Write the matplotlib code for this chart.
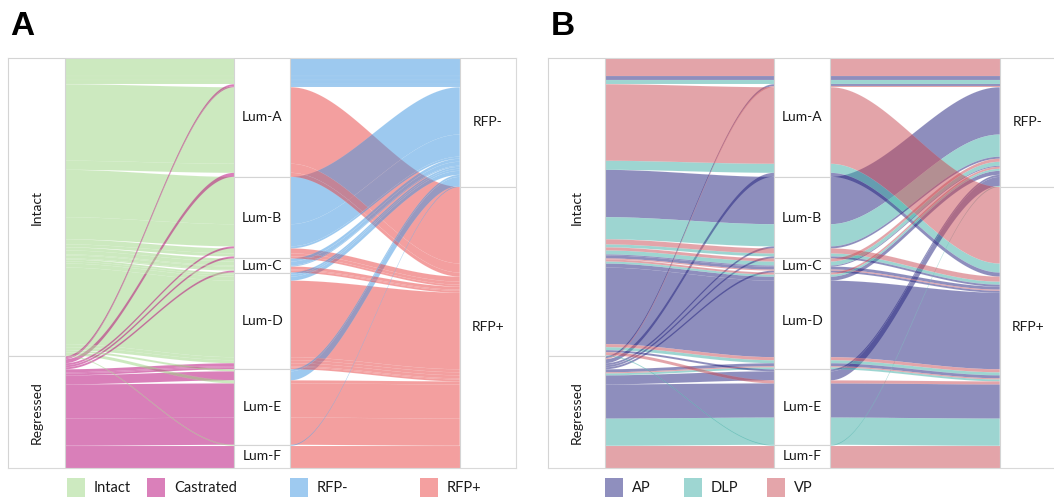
import numpy as np
import matplotlib
matplotlib.use("Agg")
import matplotlib.pyplot as plt
from matplotlib.patches import Polygon, Rectangle

plt.rcParams['font.family'] = ['Lato', 'DejaVu Sans']

# ---- categories -----------------------------------------------------------
conditions = ["Intact", "Regressed"]
clusters = ["Lum-A", "Lum-B", "Lum-C", "Lum-D", "Lum-E", "Lum-F"]
rfp_states = ["RFP-", "RFP+"]
lobes = ["AP", "DLP", "VP"]

# ---- alluvia: one entry per (condition, cluster, RFP, lobe) group ----------
flow_condition = ["Intact", "Intact", "Intact", "Regressed", "Regressed",
                  "Intact", "Intact", "Regressed",
                  "Intact", "Intact", "Regressed", "Intact", "Intact", "Regressed",
                  "Intact", "Intact", "Intact", "Intact", "Intact", "Regressed",
                  "Intact", "Intact", "Intact", "Intact", "Intact", "Intact",
                  "Regressed", "Regressed", "Regressed",
                  "Intact", "Regressed", "Intact", "Regressed", "Regressed",
                  "Intact", "Regressed"]
flow_cluster = ["Lum-A"] * 8 + ["Lum-B"] * 6 + ["Lum-C"] * 6 + ["Lum-D"] * 9 \
    + ["Lum-E"] * 5 + ["Lum-F"] * 2
flow_rfp = ["RFP-", "RFP-", "RFP-", "RFP-", "RFP-", "RFP+", "RFP+", "RFP+",
            "RFP-", "RFP-", "RFP-", "RFP+", "RFP+", "RFP+",
            "RFP-", "RFP-", "RFP-", "RFP+", "RFP+", "RFP+",
            "RFP-", "RFP-", "RFP-", "RFP+", "RFP+", "RFP+", "RFP+", "RFP+", "RFP+",
            "RFP-", "RFP-", "RFP+", "RFP+", "RFP+",
            "RFP-", "RFP+"]
flow_lobe = ["VP", "AP", "DLP", "AP", "VP", "VP", "DLP", "AP",
             "AP", "DLP", "AP", "VP", "DLP", "AP",
             "VP", "DLP", "AP", "AP", "VP", "AP",
             "VP", "DLP", "AP", "AP", "VP", "DLP", "AP", "VP", "DLP",
             "AP", "AP", "VP", "AP", "DLP",
             "DLP", "VP"]
flow_cells = [18, 4, 4, 2, 1, 76, 9, 4,
              47, 22, 2, 5, 3, 2,
              3, 4, 1, 3, 1, 2,
              2, 2, 4, 76, 3, 3, 3, 1, 2,
              2, 9, 3, 34, 27,
              1, 22]

# ---- colours ----------------------------------------------------------------
condition_colors = {"Intact": (155/255, 213/255, 129/255),
                    "Regressed": (181/255, 0.0, 117/255)}
rfp_colors = {"RFP-": (61/255, 149/255, 225/255),
              "RFP+": (233/255, 65/255, 65/255)}
lobe_colors = {"AP": (31/255, 31/255, 125/255),
               "DLP": (61/255, 173/255, 165/255),
               "VP": (201/255, 75/255, 85/255)}
FLOW_ALPHA = 0.5

n = len(flow_cells)
total = float(sum(flow_cells))
BOX_W = 0.25
AX_X = [1, 2, 3]


def stack(key):
    """Stack the alluvia along one axis in the order given by key."""
    order = sorted(range(n), key=lambda i: key(i) + (i,))
    pos, y = {}, 0.0
    for i in order:
        pos[i] = (y, y + flow_cells[i])
        y += flow_cells[i]
    return pos


ci = conditions.index
ki = clusters.index
ri = rfp_states.index
pos_cond = stack(lambda i: (ci(flow_condition[i]), ki(flow_cluster[i]), ri(flow_rfp[i])))
pos_clus = stack(lambda i: (ki(flow_cluster[i]), ri(flow_rfp[i]), ci(flow_condition[i])))
pos_rfp = stack(lambda i: (ri(flow_rfp[i]), ki(flow_cluster[i]), ci(flow_condition[i])))

# wide ribbons first so the thin ones stay visible on top
order_by_size = sorted(range(n), key=lambda i: -flow_cells[i])
# lobe panel: VP ribbons are painted last
order_by_lobe = sorted(range(n), key=lambda i: (flow_lobe[i] == "VP", -flow_cells[i]))


def strata(levels, column):
    out, y = [], 0.0
    for lev in levels:
        h = sum(v for v, c in zip(flow_cells, column) if c == lev)
        out.append((lev, y, h))
        y += h
    return out


def ribbon(ax, xa, xb, a, b, color):
    t = np.linspace(0, 1, 90)
    s = 3 * t ** 2 - 2 * t ** 3
    x = xa + (xb - xa) * t
    top = a[0] + (b[0] - a[0]) * s
    bot = a[1] + (b[1] - a[1]) * s
    verts = np.column_stack([np.r_[x, x[::-1]], np.r_[top, bot[::-1]]])
    ax.add_patch(Polygon(verts, closed=True,
                         facecolor=color + (FLOW_ALPHA,),
                         edgecolor=(1, 1, 1, 0.25), linewidth=0.15, zorder=2))


def draw_panel(ax, color_seg1, color_seg2, order):
    for i in order:
        ribbon(ax, AX_X[0] + BOX_W / 2, AX_X[1] - BOX_W / 2,
               pos_cond[i], pos_clus[i], color_seg1(i))
    for i in order:
        ribbon(ax, AX_X[1] + BOX_W / 2, AX_X[2] - BOX_W / 2,
               pos_clus[i], pos_rfp[i], color_seg2(i))

    axes_strata = [strata(conditions, flow_condition),
                   strata(clusters, flow_cluster),
                   strata(rfp_states, flow_rfp)]
    for k, st in enumerate(axes_strata):
        xc = AX_X[k]
        for lev, y0, h in st:
            ax.add_patch(Rectangle((xc - BOX_W / 2, y0), BOX_W, h,
                                   facecolor="white", edgecolor="#d4d4d4",
                                   linewidth=0.8, zorder=3))
            rot = 90 if k == 0 else 0
            ax.text(xc, y0 + h / 2, lev, ha="center", va="center",
                    rotation=rot, fontsize=10, color="#1a1a1a", zorder=4)

    ax.set_xlim(AX_X[0] - 0.126, AX_X[2] + 0.124)
    ax.set_ylim(total, 0)
    ax.set_xticks([])
    ax.set_yticks([])
    for sp in ax.spines.values():
        sp.set_color("#d9d9d9")
        sp.set_linewidth(0.8)


W, H = 1054, 499
fig = plt.figure(figsize=(W / 100, H / 100), dpi=100)
fig.patch.set_facecolor("white")

axA = fig.add_axes([8 / W, 31 / H, 508 / W, 410 / H])
draw_panel(axA,
           lambda i: condition_colors[flow_condition[i]],
           lambda i: rfp_colors[flow_rfp[i]],
           order_by_size)
axB = fig.add_axes([548 / W, 31 / H, 508 / W, 410 / H])
draw_panel(axB,
           lambda i: lobe_colors[flow_lobe[i]],
           lambda i: lobe_colors[flow_lobe[i]],
           order_by_lobe)

fig.text(10 / W, 1 - 35 / H, "A", fontsize=24, fontweight="bold",
         family=["Liberation Sans", "DejaVu Sans"], va="baseline")
fig.text(551 / W, 1 - 35 / H, "B", fontsize=24, fontweight="bold",
         family=["Liberation Sans", "DejaVu Sans"], va="baseline")


def blend(c):
    return tuple(FLOW_ALPHA * v + (1 - FLOW_ALPHA) for v in c)


legend_items = [(67, "Intact", condition_colors["Intact"]),
                (147, "Castrated", condition_colors["Regressed"]),
                (290, "RFP-", rfp_colors["RFP-"]),
                (420, "RFP+", rfp_colors["RFP+"]),
                (605, "AP", lobe_colors["AP"]),
                (684, "DLP", lobe_colors["DLP"]),
                (767, "VP", lobe_colors["VP"])]
for x0, label, col in legend_items:
    fig.patches.append(Rectangle((x0 / W, 1 - 497 / H), 18 / W, 19 / H,
                                 transform=fig.transFigure,
                                 facecolor=blend(col), edgecolor="none"))
    fig.text((x0 + 27) / W, 1 - 488 / H, label, fontsize=10.5,
             color="#1a1a1a", va="center", ha="left")

fig.savefig("out.png", dpi=100, facecolor="white")
